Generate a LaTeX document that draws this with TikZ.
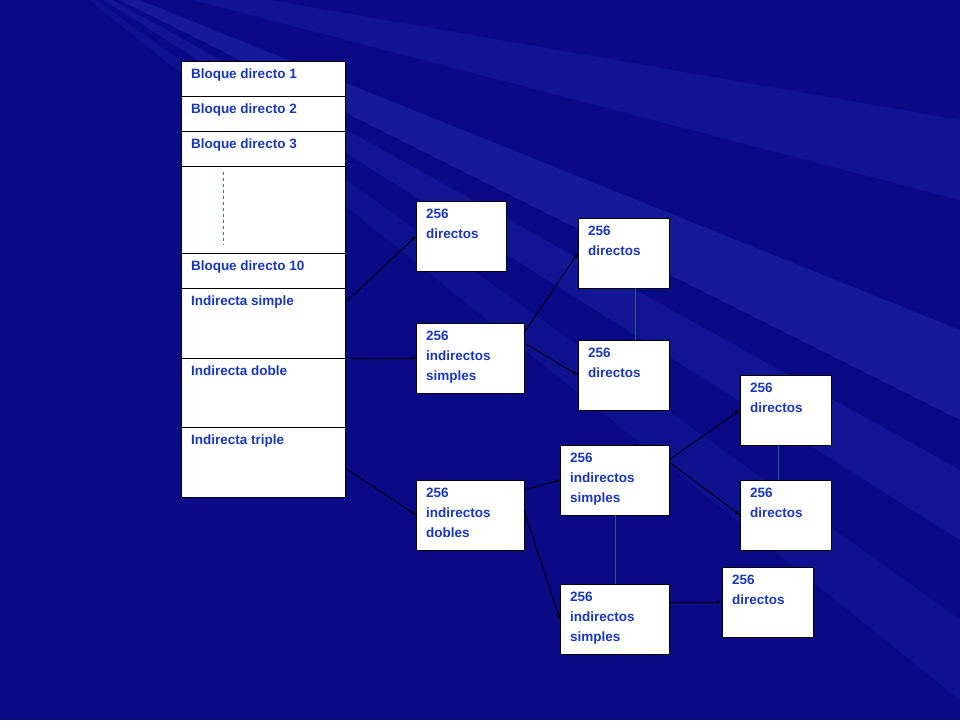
\documentclass[tikz,border=0pt]{standalone}
\usepackage{fontspec}
\setmainfont{Liberation Sans}
\usetikzlibrary{arrows,positioning}
\definecolor{mynavy}{RGB}{10,10,135}
\definecolor{myray}{RGB}{60,90,220}
\definecolor{mytext}{RGB}{25,55,190}
\definecolor{mydash}{RGB}{70,120,110}
\newcommand{\cellbox}[3]{\parbox[t][#2][t]{#1}{\hspace*{10pt}\parbox[t]{\dimexpr#1-12pt}{\vspace*{8pt}#3}}}

\begin{document}
\begin{tikzpicture}[
  x=1pt, y=-1pt,
  font=\bfseries\fontsize{13.5}{20}\selectfont,
  mycell/.style={
    draw=black, fill=white, text=mytext,
    anchor=north west, inner sep=0pt, outer sep=0pt
    },
  myarrow/.style={
    -latex, thick, black
  },
  myfaint/.style={
    mydash!70!mynavy, thin
  }
]

% background with light rays
\useasboundingbox (0,0) rectangle (960,720);
\begin{scope}
\clip (0,0) rectangle (960,720);
\fill[mynavy] (0,0) rectangle (960,720);
\fill[myray, opacity=0.2] (40,-40) -- (960,330) -- (960,420) -- cycle;
\fill[myray, opacity=0.16] (40,-40) -- (960,470) -- (960,540) -- cycle;
\fill[myray, opacity=0.14] (40,-40) -- (960,120) -- (960,200) -- cycle;
\fill[myray, opacity=0.1] (40,-40) -- (960,620) -- (960,700) -- cycle;
\end{scope}

% inode column
\node[mycell] (bd1) at (181,61) {\cellbox{164pt}{35pt}{Bloque directo 1}};
\node[mycell] (bd2) at (181,96) {\cellbox{164pt}{35pt}{Bloque directo 2}};
\node[mycell] (bd3) at (181,131) {\cellbox{164pt}{35pt}{Bloque directo 3}};
\node[mycell] (gap) at (181,166) {\cellbox{164pt}{87pt}{}};
\node[mycell] (bd10) at (181,253) {\cellbox{164pt}{35pt}{Bloque directo 10}};
\node[mycell] (isimple) at (181,288) {\cellbox{164pt}{70pt}{Indirecta simple}};
\node[mycell] (idoble) at (181,358) {\cellbox{164pt}{69pt}{Indirecta doble}};
\node[mycell] (itriple) at (181,427) {\cellbox{164pt}{70pt}{Indirecta triple}};
\coordinate (gaptop) at (223,172);
\coordinate (gapbot) at (223,245);
\draw[mydash, dashed] (gaptop) -- (gapbot);

% blocks
\node[mycell] (dir1) at (416,201) {\cellbox{90pt}{70pt}{256\\directos}};
\node[mycell] (ind1) at (416,323) {\cellbox{108pt}{70pt}{256\\indirectos\\simples}};
\node[mycell] (dob1) at (416,480) {\cellbox{108pt}{70pt}{256\\indirectos\\dobles}};
\node[mycell] (dir2) at (578,218) {\cellbox{91pt}{70pt}{256\\directos}};
\node[mycell] (dir3) at (578,340) {\cellbox{91pt}{70pt}{256\\directos}};
\node[mycell] (ind2) at (560,445) {\cellbox{109pt}{70pt}{256\\indirectos\\simples}};
\node[mycell] (ind3) at (560,584) {\cellbox{109pt}{70pt}{256\\indirectos\\simples}};
\node[mycell] (dir4) at (740,375) {\cellbox{91pt}{70pt}{256\\directos}};
\node[mycell] (dir5) at (740,480) {\cellbox{91pt}{70pt}{256\\directos}};
\node[mycell] (dir6) at (722,567) {\cellbox{91pt}{70pt}{256\\directos}};

% faint links
\coordinate (ka) at (635,0);
\coordinate (kb) at (615,0);
\coordinate (kc) at (778,0);
\draw[myfaint] (dir2.south -| ka) -- (dir3.north -| ka);
\draw[myfaint] (ind2.south -| kb) -- (ind3.north -| kb);
\draw[myfaint] (dir4.south -| kc) -- (dir5.north -| kc);

% pointers
\draw[myarrow] ([yshift=20pt]isimple.east) -- (dir1.west);
\draw[myarrow] (isimple.south east) -- (ind1.west);
\draw[myarrow] ([yshift=-6pt]itriple.north east |- 0,462) -- (dob1.west);
\draw[myarrow] ([yshift=-10pt]ind1.north east) -- ([yshift=-35pt]dir2.north west);
\draw[myarrow] ([yshift=-20pt]ind1.north east) -- ([yshift=-35pt]dir3.north west);
\draw[myarrow] ([yshift=-10pt]dob1.north east) -- ([yshift=-35pt]ind2.north west);
\draw[myarrow] ([yshift=-30pt]dob1.north east) -- ([yshift=-35pt]ind3.north west);
\draw[myarrow] ([yshift=-15pt]ind2.north east) -- ([yshift=-35pt]dir4.north west);
\draw[myarrow] ([yshift=-17pt]ind2.north east) -- ([yshift=-35pt]dir5.north west);
\draw[myarrow] ([yshift=-18pt]ind3.north east) -- ([yshift=-35pt]dir6.north west);

\end{tikzpicture}
\end{document}
